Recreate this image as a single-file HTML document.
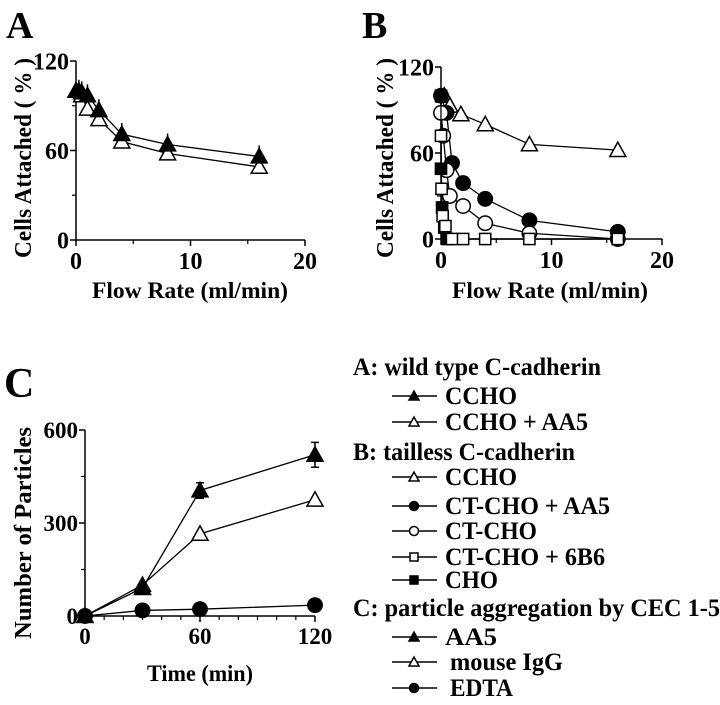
<!DOCTYPE html>
<html><head><meta charset="utf-8"><style>
body{margin:0;background:#fff;}
svg{display:block;font-family:"Liberation Serif",serif;font-weight:bold;}
</style></head><body>
<svg id="fig" width="720" height="705" viewBox="0 0 720 705">
<g id="pA"></g>
<g id="pB"></g>
<g id="pC"></g>
<g id="legend"></g>
</svg>
<script>
// Panel A data
const aX = [0, 0.25, 0.5, 1, 2, 4, 8, 16];
const aCCHO = [100, 100, 99, 97, 87, 71, 64, 56];
const aX2 = [0, 0.5, 1, 2, 4, 8, 16];
const aCCHOAA5 = [100, 97, 88, 81, 66, 58, 49];
// Panel B data
const bTriX = [0.3, 0.8, 1.8, 4, 8, 16];
const bTri = [100, 93, 87, 80, 66, 62];
const bFCircX = [0, 0.5, 1, 2, 4, 8, 16];
const bFCirc = [100, 88, 53, 39, 28, 13, 5];
const bOCircX = [0, 0.2, 0.5, 0.8, 2, 4, 8, 16];
const bOCirc = [88, 72, 48, 30, 23, 11, 4, 0];
const bOSqX = [0, 0.05, 0.15, 0.4, 1, 2, 4, 8, 16];
const bOSq = [72, 35, 16, 9, 0, 0, 0, 0, 0];
const bFSqX = [0, 0, 0.1, 0.3, 0.6, 16];
const bFSq = [100, 49, 22, 8, 0, 0];
// Panel C data
const cX = [0, 30, 60, 120];
const cAA5 = [0, 90, 405, 520];
const cAA5err = [0, 15, 25, 40];
const cIgG = [0, 100, 265, 375];
const cEDTA = [0, 18, 22, 35];
const abXTicks = [0, 10, 20];
const abXMinor = [5, 15];
const abYTicks = [0, 60, 120];
const abYMinor = [30, 90];
const cXTicks = [0, 60, 120];
const cXMinor = [10, 20, 30, 40, 50, 70, 80, 90, 100, 110];
const cYTicks = [0, 300, 600];
const cYMinor = [150, 450];

const NS = "http://www.w3.org/2000/svg";
function mk(parent, tag, attrs, text){
  const e = document.createElementNS(NS, tag);
  for (const k in attrs) e.setAttribute(k, attrs[k]);
  if (text !== undefined) e.textContent = text;
  parent.appendChild(e);
  return e;
}
function scale(d0, d1, r0, r1){ return v => r0 + (v - d0) * (r1 - r0) / (d1 - d0); }

function marker(g, type, x, y, r){
  let e;
  const fill = type.startsWith('f') ? '#000' : '#fff';
  if (type.endsWith('tri')) {
    e = mk(g, 'polygon', {points: `${x},${y-r} ${x-r},${y+r*0.8} ${x+r},${y+r*0.8}`, fill, stroke:'#000','stroke-width':1.5});
  } else if (type.endsWith('circ')) {
    e = mk(g, 'circle', {cx:x, cy:y, r:r*0.9, fill, stroke:'#000','stroke-width':1.5});
  } else {
    e = mk(g, 'rect', {x:x-r*0.8, y:y-r*0.8, width:r*1.6, height:r*1.6, fill, stroke:'#000','stroke-width':1.5});
  }
  
  
}

function series(g, xs, ys, sx, sy, type, name, r){
  const sg = mk(g, 'g', {});
  
  
  const pts = xs.map((x, i) => sx(x) + ',' + sy(ys[i])).join(' ');
  const l = mk(sg, 'polyline', {points: pts, fill:'none', stroke:'#000', 'stroke-width':1.3});
  
  
  xs.forEach((x, i) => marker(sg, type, sx(x), sy(ys[i]), r));
}

function axes(g, sx, sy, xt, yt, xm, ym, xmin, xmax, ymin, ymax, fs){
  const ax = mk(g, 'g', {});
  
  
  mk(ax, 'line', {x1:sx(xmin), y1:sy(ymin), x2:sx(xmax), y2:sy(ymin), stroke:'#000','stroke-width':1.5});
  mk(ax, 'line', {x1:sx(xmin), y1:sy(ymin), x2:sx(xmin), y2:sy(ymax), stroke:'#000','stroke-width':1.5});
  xm.forEach(v => mk(ax, 'line', {x1:sx(v), y1:sy(ymin), x2:sx(v), y2:sy(ymin)+4, stroke:'#000','stroke-width':1.2}));
  ym.forEach(v => mk(ax, 'line', {x1:sx(xmin)-4, y1:sy(v), x2:sx(xmin), y2:sy(v), stroke:'#000','stroke-width':1.2}));
  xt.forEach(v => {
    mk(ax, 'line', {x1:sx(v), y1:sy(ymin), x2:sx(v), y2:sy(ymin)+6, stroke:'#000','stroke-width':1.5});
    const t = mk(ax, 'text', {x:sx(v), y:sy(ymin)+fs+5, 'text-anchor':'middle','font-size':fs}, v);
    
    
  });
  yt.forEach(v => {
    mk(ax, 'line', {x1:sx(xmin)-6, y1:sy(v), x2:sx(xmin), y2:sy(v), stroke:'#000','stroke-width':1.5});
    const t = mk(ax, 'text', {x:sx(xmin)-7, y:sy(v)+fs*0.35, 'text-anchor':'end','font-size':fs}, v);
    
    
  });
}
function label(g, x, y, txt, fs, name, opts){
  const t = mk(g, 'text', Object.assign({x, y, 'font-size':fs}, opts||{}), txt);
  
  
  return t;
}

// Panel A
(function(){
  const g = document.getElementById('pA');
  const sx = scale(0, 20, 76, 305), sy = scale(0, 120, 240, 61);
  label(g, 6, 38, 'A', 38, 'panel-a-letter');
  axes(g, sx, sy, abXTicks, abYTicks, abXMinor, abYMinor, 0, 20, 0, 120, 24);
  label(g, 190, 298, 'Flow Rate (ml/min)', 23, 'x-axis-title', {'text-anchor':'middle', textLength:196, lengthAdjust:'spacingAndGlyphs'});
  label(g, 0, 0, 'Cells Attached ( % )', 24, 'y-axis-title', {'text-anchor':'middle', transform:'translate(31,158) rotate(-90)', textLength:200, lengthAdjust:'spacingAndGlyphs'});
  series(g, aX2, aCCHOAA5, sx, sy, 'otri', 'series-ccho-aa5', 8);
  series(g, aX, aCCHO, sx, sy, 'ftri', 'series-ccho', 8);
  aX.forEach((x, i) => { if (i > 0) mk(g, 'line', {x1:sx(x), y1:sy(aCCHO[i])-11, x2:sx(x), y2:sy(aCCHO[i]), stroke:'#000','stroke-width':1.5}); });
})();

// Panel B
(function(){
  const g = document.getElementById('pB');
  const sx = scale(0, 20, 441, 662), sy = scale(0, 120, 239, 67);
  label(g, 362, 38, 'B', 38, 'panel-b-letter');
  axes(g, sx, sy, abXTicks, abYTicks, abXMinor, abYMinor, 0, 20, 0, 120, 24);
  label(g, 550, 298, 'Flow Rate (ml/min)', 23, 'x-axis-title', {'text-anchor':'middle', textLength:196, lengthAdjust:'spacingAndGlyphs'});
  label(g, 0, 0, 'Cells Attached ( % )', 24, 'y-axis-title', {'text-anchor':'middle', transform:'translate(393,158) rotate(-90)', textLength:200, lengthAdjust:'spacingAndGlyphs'});
  series(g, bTriX, bTri, sx, sy, 'otri', 'series-ccho', 8);
  series(g, bFCircX, bFCirc, sx, sy, 'fcirc', 'series-ct-cho-aa5', 8);
  series(g, bOCircX, bOCirc, sx, sy, 'ocirc', 'series-ct-cho', 8);
  series(g, bFSqX, bFSq, sx, sy, 'fsq', 'series-cho', 7);
  series(g, bOSqX, bOSq, sx, sy, 'osq', 'series-ct-cho-6b6', 7);
})();

// Panel C
(function(){
  const g = document.getElementById('pC');
  const sx = scale(0, 120, 85, 315), sy = scale(0, 600, 616, 430);
  label(g, 4, 397, 'C', 42, 'panel-c-letter');
  axes(g, sx, sy, cXTicks, cYTicks, cXMinor, cYMinor, 0, 120, 0, 600, 23);
  label(g, 200, 681, 'Time (min)', 23, 'x-axis-title', {'text-anchor':'middle', textLength:106, lengthAdjust:'spacingAndGlyphs'});
  label(g, 0, 0, 'Number of Particles', 24, 'y-axis-title', {'text-anchor':'middle', transform:'translate(31,533) rotate(-90)', textLength:212, lengthAdjust:'spacingAndGlyphs'});
  series(g, cX, cEDTA, sx, sy, 'fcirc', 'series-edta', 8);
  series(g, cX, cIgG, sx, sy, 'otri', 'series-mouse-igg', 8);
  series(g, cX, cAA5, sx, sy, 'ftri', 'series-aa5', 8);
  cX.forEach((x, i) => { if (cAA5err[i]) {
    const e = mk(g, 'path', {d:`M${sx(x)},${sy(cAA5[i]-cAA5err[i])}V${sy(cAA5[i]+cAA5err[i])}M${sx(x)-4},${sy(cAA5[i]+cAA5err[i])}h8M${sx(x)-4},${sy(cAA5[i]-cAA5err[i])}h8`, stroke:'#000','stroke-width':1.5, fill:'none'});
    
    
  }});
})();

// Legend
(function(){
  const g = document.getElementById('legend');
  const rows = [
    ['h','A: wild type C-cadherin',367,248],
    ['ftri','CCHO',396,72],
    ['otri','CCHO + AA5',422,143],
    ['h','B: tailless C-cadherin',452,222],
    ['otri','CCHO',477,72],
    ['fcirc','CT-CHO + AA5',506,165],
    ['ocirc','CT-CHO',531,92],
    ['osq','CT-CHO + 6B6',557,160],
    ['fsq','CHO',580,53],
    ['h','C: particle aggregation by CEC 1-5',608,367],
    ['ftri','AA5',637,52],
    ['otri','mouse IgG',662,113],
    ['fcirc','EDTA',688,63]
  ];
  rows.forEach(r => {
    const [type, txt, y, w] = r;
    const eg = mk(g, 'g', {});
    
    
    if (type === 'h') {
      mk(eg, 'text', {x:353, y:y+8, 'font-size':25, textLength:w, lengthAdjust:'spacingAndGlyphs'}, txt);
    } else {
      mk(eg, 'line', {x1:392, y1:y, x2:437, y2:y, stroke:'#000','stroke-width':1.5});
      marker(eg, type, 414, y, 5);
      mk(eg, 'text', {x:txt==='mouse IgG'||txt==='EDTA'?450:445, y:y+8, 'font-size':25, textLength:w, lengthAdjust:'spacingAndGlyphs'}, txt);
    }
  });
})();
</script>
</body></html>
